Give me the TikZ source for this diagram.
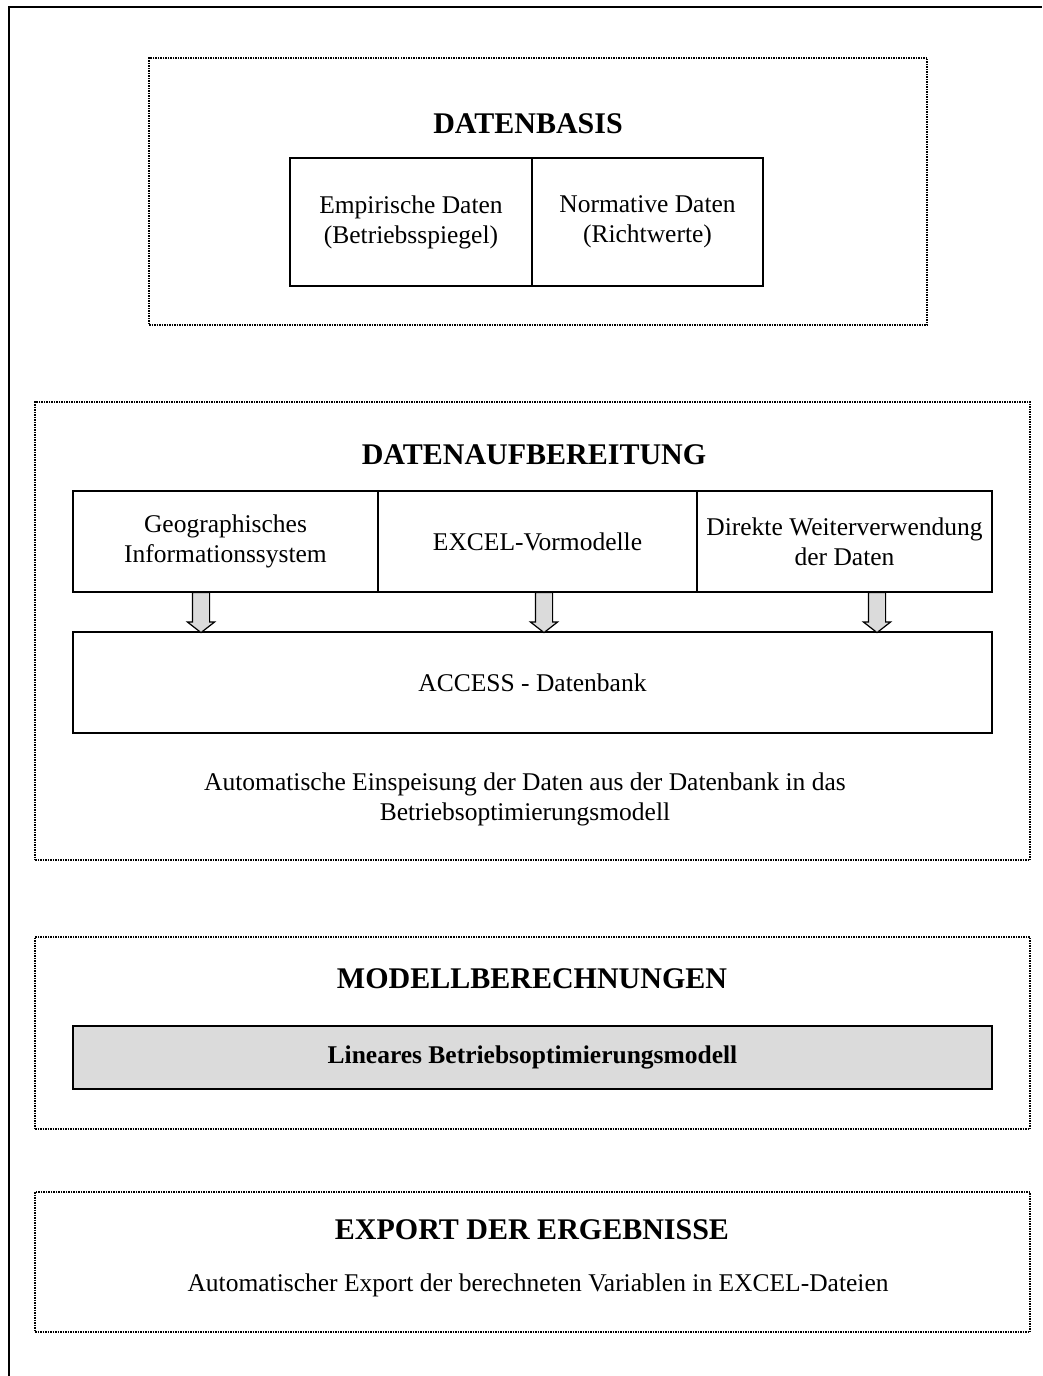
\documentclass[tikz,border=0pt]{standalone}
\usepackage{fontspec}
\setmainfont{Liberation Serif}
\usetikzlibrary{shapes.arrows}
\begin{document}
\begin{tikzpicture}[x=1pt,y=-1pt,
  dotbox/.style={draw, line width=1.5pt, dash pattern=on 1.5pt off 1pt, inner sep=0pt},
  solidbox/.style={draw, line width=1.5pt, inner sep=2pt, align=center, font=\fontsize{25.5}{30}\selectfont},
  titletext/.style={font=\fontsize{30}{34}\selectfont\bfseries, inner sep=0pt},
  bodytext/.style={font=\fontsize{25.5}{30}\selectfont, align=center, inner sep=0pt},
  downarrow/.style={single arrow, shape border rotate=270, draw, line width=1.2pt, fill=gray!28,
    inner sep=8pt, minimum height=40pt, single arrow head extend=5pt, single arrow tip angle=104, anchor=tail}
]
\useasboundingbox (0,0) rectangle (1042,1376);
% outer frame
\coordinate (fTL) at (9,7);
\coordinate (fTR) at (1042,7);
\coordinate (fBL) at (9,1376);
\draw[line width=2pt] (fBL) -- (fTL) -- (fTR);

% Box 1
\node[dotbox, minimum width=778pt, minimum height=267pt] (b1) at (538,191.5) {};
\node[titletext] (t1) at (528,124) {DATENBASIS};
\node[solidbox, minimum width=242pt, minimum height=128pt] (emp) at (411,222) {Empirische Daten\\(Betriebsspiegel)};
\node[solidbox, minimum width=231pt, minimum height=128pt] (norm) at (647.5,222) {Normative Daten\\(Richtwerte)};

% Box 2
\node[dotbox, minimum width=995pt, minimum height=458pt] (b2) at (532.5,631) {};
\node[titletext] (t2) at (534,455) {DATENAUFBEREITUNG};
\node[solidbox, minimum width=305pt, minimum height=101pt] (geo) at (225.5,541.5) {Geographisches\\Informationssystem};
\node[solidbox, minimum width=319pt, minimum height=101pt] (excel) at (537.5,541.5) {EXCEL-Vormodelle};
\node[solidbox, minimum width=295pt, minimum height=101pt] (direkt) at (844.5,541.5) {Direkte Weiterverwendung\\der Daten};
\node[solidbox, minimum width=919pt, minimum height=101pt] (access) at (532.5,682.5) {ACCESS - Datenbank};
\node[downarrow] (a1) at (201,592) {};
\node[downarrow] (a2) at (544,592) {};
\node[downarrow] (a3) at (877,592) {};
\node[bodytext] (ein) at (525,799) {Automatische Einspeisung der Daten aus der Datenbank in das\\Betriebsoptimierungsmodell};

% Box 3
\node[dotbox, minimum width=995pt, minimum height=192pt] (b3) at (532.5,1033) {};
\node[titletext] (t3) at (532,979) {MODELLBERECHNUNGEN};
\node[solidbox, fill=gray!28, minimum width=919pt, minimum height=63pt, font=\fontsize{25.5}{30}\selectfont\bfseries] (lin) at (532.5,1057.5) {Lineares Betriebsoptimierungsmodell};

% Box 4
\node[dotbox, minimum width=995pt, minimum height=140pt] (b4) at (532.5,1262) {};
\node[titletext] (t4) at (532,1230) {EXPORT DER ERGEBNISSE};
\node[bodytext] (exp) at (538,1285) {Automatischer Export der berechneten Variablen in EXCEL-Dateien};
\end{tikzpicture}
\end{document}
